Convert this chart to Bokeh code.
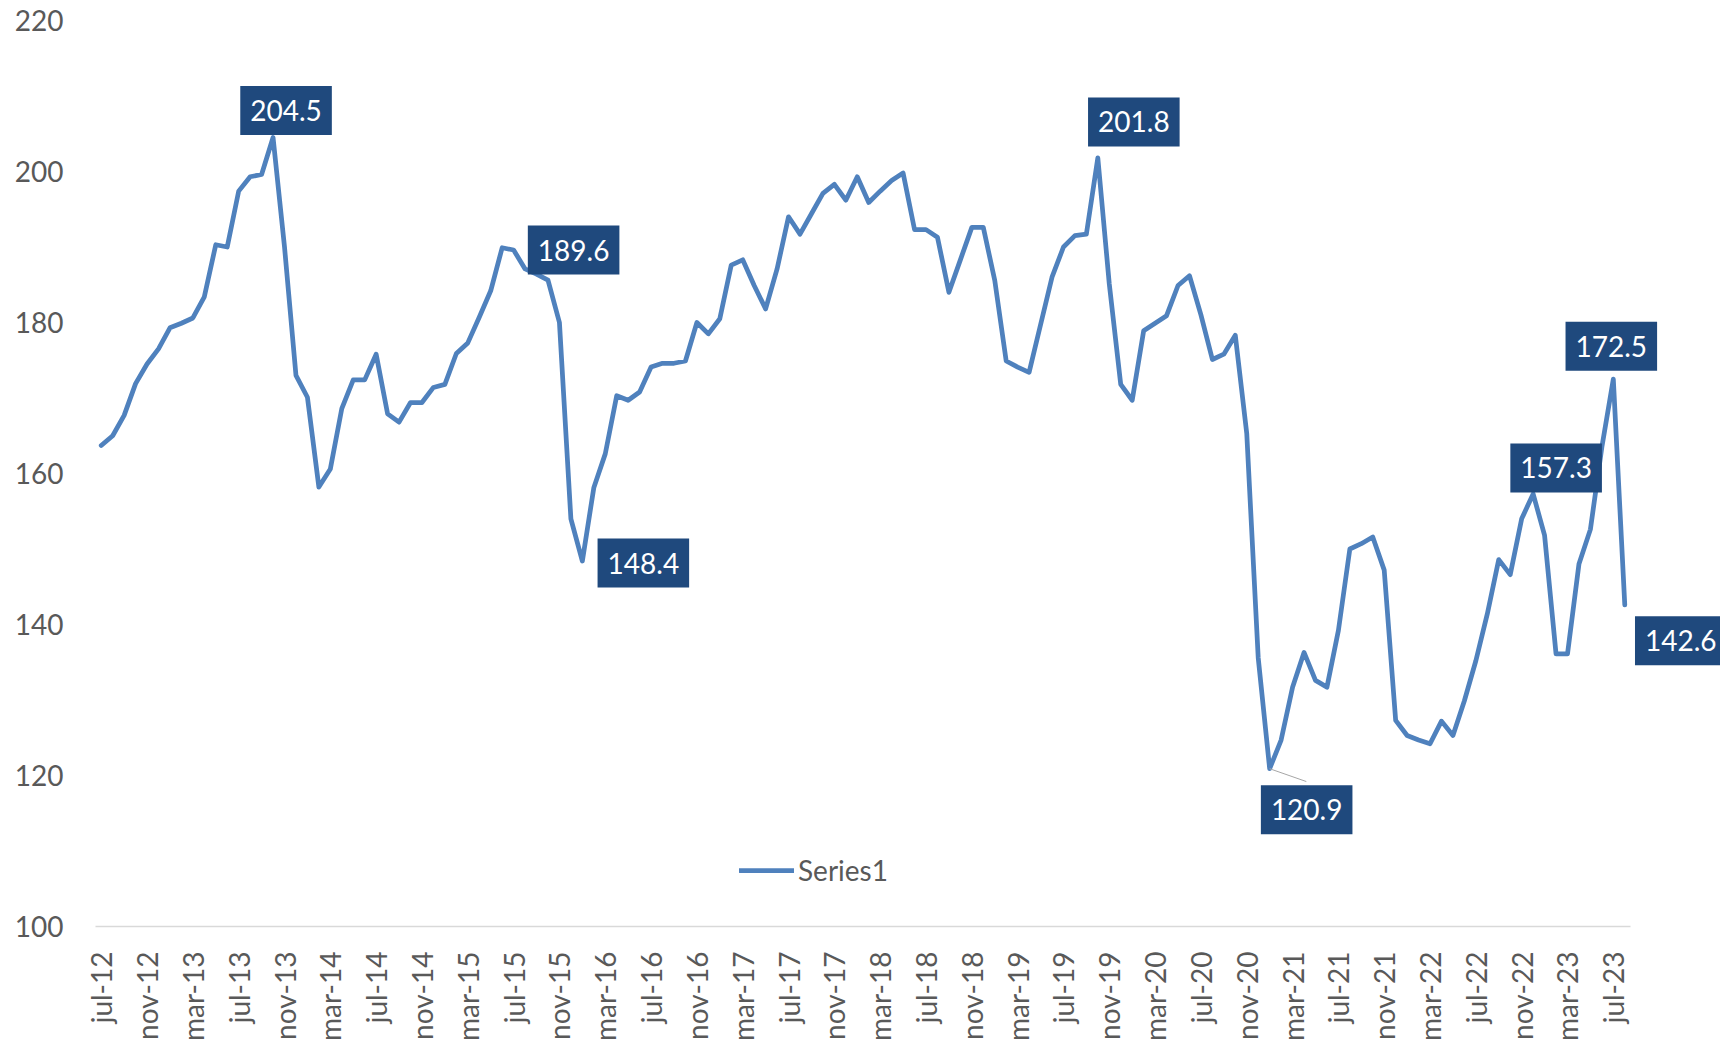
import math
from bokeh.plotting import figure
from bokeh.models import Range1d, FixedTicker, Label, Legend, LegendItem, ColumnDataSource
from bokeh.embed import file_html
from bokeh.resources import INLINE

# ---- data ----
MONTHS = ["ene", "feb", "mar", "abr", "may", "jun", "jul", "ago", "sep", "oct", "nov", "dic"]
START_YEAR, START_MONTH, N_POINTS = 2012, 6, 134  # jul-12 ... ago-23
categories = []
for k in range(N_POINTS):
    mm = (START_MONTH + k) % 12
    yy = START_YEAR + (START_MONTH + k) // 12
    categories.append(f"{MONTHS[mm]}-{yy % 100:02d}")

values = [
    163.7, 165.0, 167.7, 171.9, 174.5, 176.5, 179.3, 179.9, 180.6, 183.4,
    190.3, 190.0, 197.4, 199.3, 199.6, 204.5, 190.0, 173.0, 170.1, 158.2,
    160.6, 168.6, 172.4, 172.4, 175.8, 167.9, 166.8, 169.4, 169.4, 171.4,
    171.8, 175.9, 177.3, 180.7, 184.2, 189.9, 189.6, 187.1, 186.4, 185.6,
    180.0, 154.0, 148.4, 158.1, 162.6, 170.3, 169.7, 170.8, 174.1, 174.6,
    174.6, 174.9, 180.0, 178.5, 180.5, 187.6, 188.3, 184.9, 181.8, 187.1,
    194.0, 191.7, 194.4, 197.1, 198.3, 196.2, 199.3, 195.9, 197.4, 198.8,
    199.8, 192.3, 192.3, 191.3, 184.0, 188.3, 192.6, 192.6, 185.6, 174.9,
    174.1, 173.4, 179.7, 186.0, 190.0, 191.5, 191.7, 201.8, 185.1, 171.8,
    169.7, 178.9, 179.9, 180.9, 184.9, 186.2, 181.0, 175.1, 175.8, 178.3,
    165.3, 135.6, 120.9, 124.7, 131.7, 136.3, 132.6, 131.7, 139.2, 150.0,
    150.7, 151.6, 147.2, 127.3, 125.3, 124.7, 124.2, 127.2, 125.3, 129.9,
    135.2, 141.4, 148.6, 146.6, 154.0, 157.3, 151.8, 136.1, 136.1, 148.0,
    152.6, 163.5, 172.5, 142.6,
]
x_index = list(range(len(values)))

tick_positions = list(range(0, N_POINTS, 4))
y_ticks = [100, 120, 140, 160, 180, 200, 220]

# labelled points: (index, text, x offset px, y offset px)
labelled = [
    (15, "204.5", 13, 27),
    (36, "189.6", 60, 0),
    (42, "148.4", 61, -2),
    (87, "201.8", 36, 36),
    (102, "120.9", 37, -41),
    (125, "157.3", 23, 26),
    (132, "172.5", -2, 33),
    (133, "142.6", 56, -36),
]

# ---- figure ----
FONT = "Lato"
GREY_TEXT = "#595959"
DATA_FRAME_W = 1535          # width used by the 134 categories
FRAME_W = 1625               # extra room on the right for the last label
px_per_cat = DATA_FRAME_W / N_POINTS
x_end = -0.5 + FRAME_W / px_per_cat

p = figure(
    frame_width=FRAME_W, frame_height=906,
    x_range=Range1d(-0.5, x_end), y_range=Range1d(100, 220),
    output_backend="svg", toolbar_location=None,
    min_border_left=95, min_border_right=0, min_border_top=20, min_border_bottom=117,
    background_fill_color="white", border_fill_color="white",
)
p.outline_line_color = None
p.xgrid.visible = False
p.ygrid.visible = False

src = ColumnDataSource(dict(x=x_index, y=values))
line = p.line("x", "y", source=src, line_color="#4F81BD", line_width=4.75,
              line_join="round", line_cap="round")

# leader line for the 120.9 label
lead_i = 102
p.segment(x0=[lead_i], y0=[values[lead_i]], x1=[lead_i + 3.2], y1=[values[lead_i] - 1.7],
          line_color="#A6A6A6", line_width=1)

# axes
xa = p.xaxis[0]
xa.bounds = (-0.5, N_POINTS - 0.5)
xa.ticker = FixedTicker(ticks=tick_positions)
xa.major_label_overrides = {i: categories[i] for i in tick_positions}
xa.major_label_orientation = math.pi / 2
xa.major_label_text_font = FONT
xa.major_label_text_font_size = "28px"
xa.major_label_text_color = GREY_TEXT
xa.major_label_standoff = 19
xa.axis_line_color = "#D9D9D9"
xa.axis_line_width = 1.5
xa.major_tick_line_color = None
xa.minor_tick_line_color = None

ya = p.yaxis[0]
ya.ticker = FixedTicker(ticks=y_ticks)
ya.major_label_text_font = FONT
ya.major_label_text_font_size = "28px"
ya.major_label_text_color = GREY_TEXT
ya.major_label_standoff = 26
ya.axis_line_color = None
ya.major_tick_line_color = None
ya.minor_tick_line_color = None

# data labels
for idx, txt, dx, dy in labelled:
    p.add_layout(Label(
        x=idx, y=values[idx], text=txt, x_offset=dx, y_offset=dy,
        text_align="center", text_baseline="middle",
        text_font=FONT, text_font_size="28px", text_color="white",
        background_fill_color="#1F497D", background_fill_alpha=1.0,
        padding=dict(left=10, right=10, top=14, bottom=14),
    ))

# legend
legend = Legend(
    items=[LegendItem(label="Series1", renderers=[line])],
    location=(644, 39), orientation="horizontal",
    glyph_width=55, glyph_height=24, label_standoff=4,
    padding=0, margin=0, spacing=0,
    label_text_font=FONT, label_text_font_size="28px", label_text_color=GREY_TEXT,
    border_line_alpha=0, background_fill_alpha=0,
)
p.add_layout(legend, "center")

open("out.html", "w").write(file_html(p, INLINE))
